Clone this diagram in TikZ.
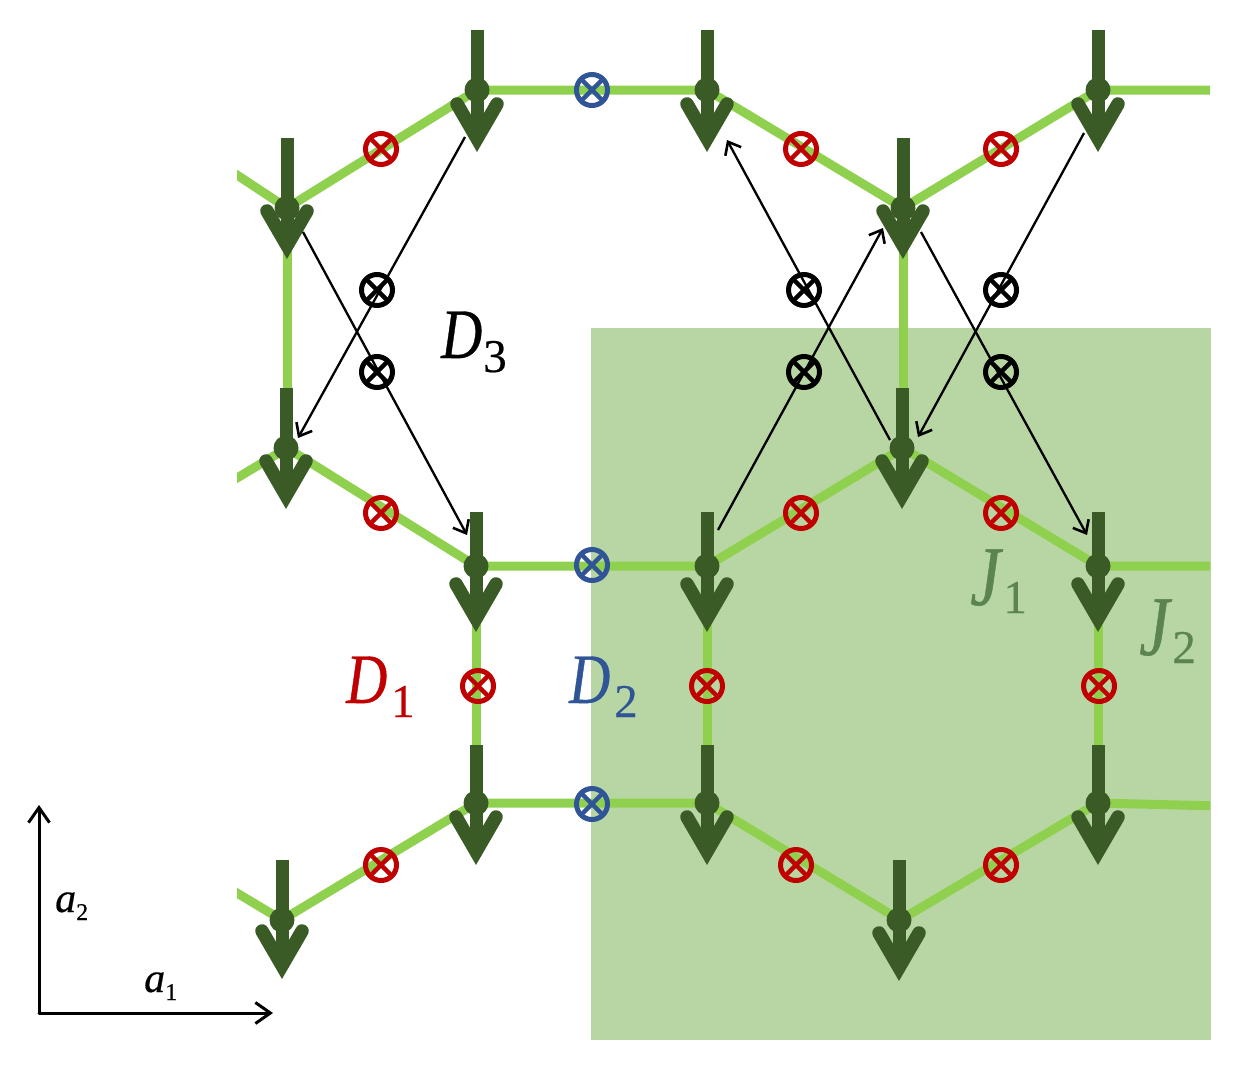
\documentclass[tikz,border=0pt]{standalone}
\usepackage{fontspec}
\usetikzlibrary{arrows.meta}
\newfontfamily\latticefont[FakeStretch=0.8,FakeBold=0.5]{Liberation Serif}
\newfontfamily\plainfont[FakeBold=0.4]{Liberation Serif}
\definecolor{bondgreen}{HTML}{8FD14F}
\definecolor{spingreen}{HTML}{3A5A26}
\definecolor{regiongreen}{HTML}{B8D6A3}
\definecolor{dmired}{HTML}{C00000}
\definecolor{dmiblue}{HTML}{2F5597}
\definecolor{jgreen}{HTML}{5B8450}
% Large italic letter (#1), gap (#2), spaced numeric subscript (#3)
\newcommand{\biglabel}[3]{{\latticefont\fontsize{71}{71}\selectfont\itshape #1\hspace{#2}\raisebox{-14pt}{\plainfont\fontsize{47}{47}\selectfont\upshape #3}}}
% Exchange label: taller letter sitting nearer the subscript baseline
\newcommand{\jlabel}[1]{{\latticefont\fontsize{85}{85}\selectfont\itshape J\hspace{3pt}\raisebox{-8pt}{\plainfont\fontsize{47}{47}\selectfont\upshape #1}}}
\newcommand{\smalllabel}[2]{{\plainfont\fontsize{42}{42}\selectfont\itshape #1\raisebox{-8pt}{\fontsize{24}{24}\selectfont\upshape #2}}}
% A lattice site: name, x, y, top of the shaft, tip of the barbed head
\newcommand{\spinsite}[5]{%
  \node[sitedot] (#1) at (#2,#3) {};
  \fill[spingreen] ({#2-6.5},#4) rectangle ({#2+6.5},{#5-14});
  \draw[spingreen,line width=13.5pt,line cap=round,line join=miter]
    ({#2-20},{#5-49}) -- ({#2},{#5-14.5}) -- ({#2+20},{#5-49});
}
\tikzset{
  x=1pt,y=-1pt,
  bond/.style={draw=bondgreen,line width=9pt},
  sitedot/.style={circle,fill=spingreen,inner sep=0pt,minimum size=25pt},
  dmi/.style={circle,draw=#1,line width=5pt,inner sep=0pt,minimum size=31pt,
    path picture={\draw[#1,line width=4.5pt]
      (path picture bounding box.north west) -- (path picture bounding box.south east)
      (path picture bounding box.north east) -- (path picture bounding box.south west);}},
  hop/.style={draw=black,line width=2.3pt,-{Straight Barb[length=11pt,width=18pt,line width=2.6pt]}},
  axis/.style={draw=black,line width=3pt,-{Straight Barb[length=15pt,width=21pt,line width=3pt]}},
  lbl/.style={inner sep=0pt,anchor=base west}
}
\begin{document}
\begin{tikzpicture}
\useasboundingbox (0,0) rectangle (1246,1082);
\fill[regiongreen] (591,328) rectangle (1211,1040);

% fixed points for the site positions and free bond ends
\foreach \n/\x/\y in {a/477/90,b/707/90,c/1098/90,d/287/208,e/903/208,f/287/448,g/903/448,
    h/476/566,i/707/566,j/1098/566,k/476/803,l/707/803,m/1098/803,n/282/920,o/900/920}
  {\coordinate (p\n) at (\x,\y);}
\coordinate (s1) at (227,168.4);
\coordinate (s2) at (1220,90);
\coordinate (s3) at (227,484);
\coordinate (s4) at (1220,566);
\coordinate (s5) at (227,887);
\coordinate (s6) at (1220,806);

% honeycomb bonds, cut square at the edges of the patch
\begin{scope}
\clip (237,0) rectangle (1210,1082);
\draw[bond] (s1) -- (pd) -- (pa) -- (pb) -- (pe) -- (pc) -- (s2);
\draw[bond] (pd) -- (pf);
\draw[bond] (pe) -- (pg);
\draw[bond] (s3) -- (pf) -- (ph) -- (pi) -- (pg) -- (pj) -- (s4);
\draw[bond] (ph) -- (pk);
\draw[bond] (pi) -- (pl);
\draw[bond] (pj) -- (pm);
\draw[bond] (s5) -- (pn) -- (pk) -- (pl) -- (po) -- (pm) -- (s6);
\end{scope}

% spins
\spinsite{a}{477}{90}{30}{153}
\spinsite{b}{707}{90}{30}{153}
\spinsite{c}{1098}{90}{30}{153}
\spinsite{d}{287}{208}{138}{260}
\spinsite{e}{903}{208}{138}{260}
\spinsite{f}{286}{448}{388}{510}
\spinsite{g}{902}{448}{388}{510}
\spinsite{h}{476}{566}{512}{633}
\spinsite{i}{707}{566}{512}{633}
\spinsite{j}{1098}{566}{512}{633}
\spinsite{k}{476}{803}{745}{866}
\spinsite{l}{707}{803}{745}{866}
\spinsite{m}{1098}{803}{745}{866}
\spinsite{n}{282}{920}{860}{980}
\spinsite{o}{899}{920}{860}{982}

% second-neighbour hopping arrows
\coordinate (h1a) at (303,232); \coordinate (h1b) at (467,535);
\coordinate (h2a) at (465,137); \coordinate (h2b) at (298,438);
\coordinate (h3a) at (890,440); \coordinate (h3b) at (727,140);
\coordinate (h4a) at (718,530); \coordinate (h4b) at (883,228);
\coordinate (h5a) at (921,232); \coordinate (h5b) at (1087,535);
\coordinate (h6a) at (1084,133); \coordinate (h6b) at (918,437);
\draw[hop] (h1a) -- (h1b);
\draw[hop] (h2a) -- (h2b);
\draw[hop] (h3a) -- (h3b);
\draw[hop] (h4a) -- (h4b);
\draw[hop] (h5a) -- (h5b);
\draw[hop] (h6a) -- (h6b);

% out-of-plane DMI markers
\foreach \n/\x/\y in {1/381/149,2/801/149,3/1001/149,4/381/513,5/801/513,6/1001/513,
    7/478/686,8/707/686,9/1099/686,10/381/865,11/796/865,12/1001/865}
  {\node[dmi=dmired] (r\n) at (\x,\y) {};}
\foreach \n/\x/\y in {1/592/90,2/592/565,3/592/804}
  {\node[dmi=dmiblue] (u\n) at (\x,\y) {};}
\foreach \n/\x/\y in {1/377/290,2/377/372,3/804/290,4/804/372,5/1001/290,6/1001/372}
  {\node[dmi=black] (z\n) at (\x,\y) {};}

% lattice vectors
\coordinate (origin) at (39,1013);
\coordinate (a1end) at (273,1013);
\coordinate (a2end) at (39,805);
\draw[axis,line cap=round] (origin) -- (a1end);
\draw[axis,line cap=round] (origin) -- (a2end);

% labels
\node[lbl,text=black] (d3) at (441,358) {\biglabel{D}{1pt}{3}};
\node[lbl,text=dmired] (d1) at (346,703) {\biglabel{D}{4pt}{1}};
\node[lbl,text=dmiblue] (d2) at (569,703) {\biglabel{D}{4pt}{2}};
\node[lbl,text=jgreen] (j1) at (970,605) {\jlabel{1}};
\node[lbl,text=jgreen] (j2) at (1139,655) {\jlabel{2}};
\node[lbl,text=black] (a1) at (144,992) {\smalllabel{a}{1}};
\node[lbl,text=black] (a2) at (55,912) {\smalllabel{a}{2}};
\end{tikzpicture}
\end{document}
